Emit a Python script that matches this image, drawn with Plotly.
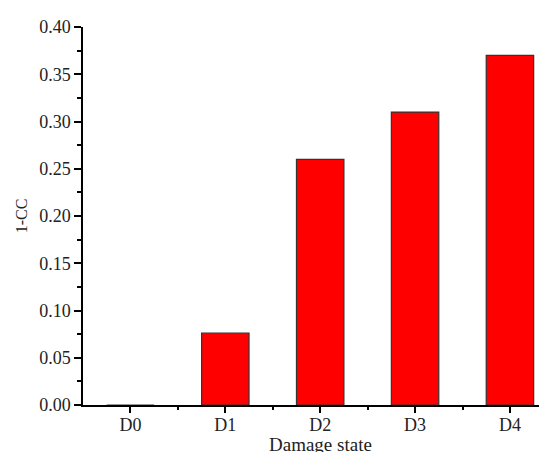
import plotly.graph_objects as go

categories = ["D0", "D1", "D2", "D3", "D4"]
values = [0.0, 0.076, 0.26, 0.31, 0.37]
y_ticks = [0.00, 0.05, 0.10, 0.15, 0.20, 0.25, 0.30, 0.35, 0.40]
x_title = "Damage state"
y_title = "1-CC"

xpos = list(range(len(categories)))
FONT = "Liberation Serif"
TXT = "#222222"

fig = go.Figure()
fig.add_trace(go.Bar(
    x=xpos, y=values, width=0.5,
    marker=dict(color="#FF0000", line=dict(color="#333333", width=1.2)),
    showlegend=False,
))

# note: the page body has an 8px margin, so the figure is offset by (8, 8)
fig.update_layout(
    width=547, height=452,
    margin=dict(l=75, r=9, t=14, b=55),
    paper_bgcolor="white", plot_bgcolor="white",
    font=dict(family=FONT, size=18, color=TXT),
    annotations=[dict(
        text=x_title, x=2, y=0, xref="x", yref="paper",
        yshift=-27, yanchor="top", showarrow=False,
        font=dict(family=FONT, size=19, color=TXT),
    )],
)
fig.update_xaxes(
    range=[-0.5, 4.38], showgrid=False, zeroline=False,
    showline=True, linecolor="black", linewidth=1.5,
    tickmode="array", tickvals=xpos, ticktext=categories,
    ticks="outside", ticklen=6, tickwidth=1.5, tickcolor="black",
    ticklabelstandoff=-3,
    tickfont=dict(family=FONT, size=18, color=TXT),
    minor=dict(tickmode="array", tickvals=[0.5, 1.5, 2.5, 3.5],
               ticks="outside", ticklen=3, tickwidth=1.5, tickcolor="black"),
    fixedrange=True,
)
fig.update_yaxes(
    range=[0, 0.40], showgrid=False, zeroline=False,
    showline=True, linecolor="black", linewidth=1.5,
    tickmode="array", tickvals=y_ticks,
    ticktext=[f"{v:.2f}" for v in y_ticks],
    ticks="outside", ticklen=7, tickwidth=1.5, tickcolor="black",
    tickfont=dict(family=FONT, size=18, color=TXT),
    minor=dict(dtick=0.025, ticks="outside", ticklen=4, tickwidth=1.5,
               tickcolor="black"),
    title=dict(text=y_title, standoff=8,
               font=dict(family=FONT, size=16, color=TXT)),
    fixedrange=True,
)

fig.write_html("out.html")
